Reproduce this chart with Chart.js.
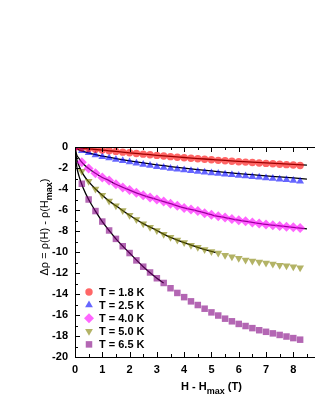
<!DOCTYPE html>
<html>
  <head>
    <title>Magnetoresistance</title>
    <script src="https://cdn.jsdelivr.net/npm/chart.js"></script>
    <style>
      body {
        margin: 0;
        overflow: hidden;
        background: #fff;
      }
      .chart-container {
        width: 360px;
        height: 407px;
      }
    </style>
  </head>
  <body>
    <div class="chart-container">
      <canvas id="graph"></canvas>
    </div>
    <script>
      // field points of the measured curves (T)
      const fieldH = [
        0, 0.25, 0.5, 0.75, 1, 1.25, 1.5, 1.75, 2, 2.25, 2.5, 2.75, 3, 3.25,
        3.5, 3.75, 4, 4.25, 4.5, 4.75, 5, 5.25, 5.5, 5.75, 6, 6.25, 6.5, 6.75,
        7, 7.25, 7.5, 7.75, 8, 8.25,
      ];
      const labels = ["T = 1.8 K", "T = 2.5 K", "T = 4.0 K", "T = 5.0 K", "T = 6.5 K"];

      const rho18 = [
        0, -0.08, -0.15, -0.22, -0.29, -0.35, -0.42, -0.49, -0.55, -0.62, -0.68,
        -0.74, -0.8, -0.86, -0.92, -0.97, -1.02, -1.07, -1.12, -1.17, -1.22,
        -1.27, -1.31, -1.36, -1.4, -1.44, -1.48, -1.52, -1.56, -1.6, -1.64,
        -1.68, -1.72, -1.76,
      ];
      const rho25 = [
        0, -0.35, -0.55, -0.75, -0.92, -1.05, -1.2, -1.32, -1.44, -1.55, -1.67,
        -1.77, -1.87, -1.96, -2.05, -2.13, -2.2, -2.27, -2.34, -2.41, -2.47,
        -2.53, -2.59, -2.65, -2.71, -2.77, -2.83, -2.89, -2.95, -3.01, -3.07,
        -3.13, -3.2, -3.27,
      ];
      const rho40 = [
        0, -1.45, -2.05, -2.5, -2.9, -3.2, -3.55, -3.85, -4.1, -4.35, -4.6, -4.8,
        -5.0, -5.2, -5.4, -5.6, -5.8, -5.95, -6.1, -6.3, -6.45, -6.6, -6.72,
        -6.85, -6.97, -7.08, -7.18, -7.28, -7.37, -7.45, -7.52, -7.59, -7.65,
        -7.72,
      ];
      const rho50 = [
        0, -2.3, -3.25, -4.0, -4.6, -5.15, -5.6, -6.05, -6.5, -6.9, -7.3, -7.65,
        -7.95, -8.3, -8.6, -8.85, -9.1, -9.35, -9.55, -9.75, -9.95, -10.1, -10.3,
        -10.45, -10.6, -10.75, -10.85, -10.95, -11.05, -11.15, -11.25, -11.3,
        -11.4, -11.5,
      ];
      const rho65 = [
        0, -3.5, -5.0, -6.1, -7.1, -7.95, -8.75, -9.45, -10.1, -10.8, -11.4,
        -11.95, -12.5, -12.95, -13.45, -13.9, -14.3, -14.7, -15.05, -15.4,
        -15.75, -16.05, -16.35, -16.6, -16.85, -17.05, -17.25, -17.45, -17.6,
        -17.75, -17.9, -18.05, -18.2, -18.35,
      ];

      // fitted curves (black lines)
      const fitH = [
        0, 0.05, 0.15, 0.3, 0.5, 0.75, 1, 1.25, 1.5, 2, 2.5, 3, 3.25, 3.5, 4,
        4.5, 5, 5.15, 5.5, 6, 6.5, 7, 7.5, 8, 8.5,
      ];
      const fit18 = [
        0, -0.03, -0.07, -0.12, -0.17, -0.24, -0.3, -0.36, -0.42, -0.55, -0.67,
        -0.79, -0.84, -0.9, -1.0, -1.1, -1.19, -1.22, -1.28, -1.37, -1.45,
        -1.52, -1.59, -1.66, -1.72,
      ];
      const fit25 = [
        0, -0.15, -0.28, -0.42, -0.56, -0.72, -0.86, -0.98, -1.1, -1.32, -1.52,
        -1.7, -1.78, -1.86, -2.01, -2.15, -2.28, -2.32, -2.41, -2.53, -2.64,
        -2.75, -2.85, -2.95, -3.05,
      ];
      const fit40 = [
        0, -0.65, -1.1, -1.6, -2.05, -2.5, -2.9, -3.2, -3.55, -4.1, -4.6, -5.0,
        -5.2, -5.4, -5.8, -6.1, -6.45, -6.55, -6.72, -6.97, -7.18, -7.37, -7.52,
        -7.65, -7.8,
      ];
      const fit50 = [
        0, -1.0, -1.8, -2.6, -3.3, -4.0, -4.6, -5.15, -5.6, -6.5, -7.3, -7.95,
        -8.3, -8.6, -9.1, -9.55, -9.95, -10.05,
      ];
      const fit65 = [
        0, -1.6, -2.8, -3.9, -5.0, -6.1, -7.1, -7.95, -8.75, -10.1, -11.4, -12.5,
        -12.95,
      ];

      function pts(xs, ys) {
        return ys.map((y, i) => ({ x: xs[i], y: y }));
      }

      function dataSet(label, ys, color, style, radius, rotation) {
        return {
          label: label,
          data: pts(fieldH, ys),
          backgroundColor: color,
          borderWidth: 0,
          pointStyle: style,
          pointRadius: radius,
          pointRotation: rotation || 0,
          showLine: false,
          isData: true,
        };
      }

      function fitSet(ys) {
        return {
          data: pts(fitH, ys),
          showLine: true,
          borderColor: "#000",
          borderWidth: 1.3,
          pointRadius: 0,
          cubicInterpolationMode: "monotone",
          isData: false,
        };
      }

      const tickFont = { family: "Liberation Sans, Arial", size: 11, weight: "bold" };

      // inward ticks, top frame, axis titles and legend inside the plot
      const framePlugin = {
        id: "frame",
        afterDraw(chart) {
          const ctx = chart.ctx;
          const a = chart.chartArea;
          const xs = chart.scales.x;
          const ys = chart.scales.y;
          ctx.save();
          ctx.strokeStyle = "#000";
          ctx.lineWidth = 1;
          ctx.beginPath();
          ctx.moveTo(a.left, a.top + 0.5);
          ctx.lineTo(a.right, a.top + 0.5);
          for (let v = 0; v <= 10; v += 0.5) {
            const px = Math.round(xs.getPixelForValue(v)) + 0.5;
            const len = v % 1 === 0 ? 5 : 3;
            ctx.moveTo(px, a.bottom);
            ctx.lineTo(px, a.bottom - len);
            ctx.moveTo(px, a.top);
            ctx.lineTo(px, a.top + len);
          }
          for (let v = -20; v <= 0; v += 1) {
            const py = Math.round(ys.getPixelForValue(v)) + 0.5;
            const len = v % 2 === 0 ? 5 : 3;
            ctx.moveTo(a.left, py);
            ctx.lineTo(a.left + len, py);
          }
          ctx.stroke();

          // x title
          ctx.fillStyle = "#000";
          ctx.textBaseline = "alphabetic";
          const big = "bold 11px Liberation Sans, Arial";
          const small = "bold 9px Liberation Sans, Arial";
          ctx.font = big;
          const w1 = ctx.measureText("H - H").width;
          const w3 = ctx.measureText(" (T)").width;
          ctx.font = small;
          const w2 = ctx.measureText("max").width;
          let x0 = (a.left + a.right) / 2 - (w1 + w2 + w3) / 2;
          const yb = 390;
          ctx.font = big;
          ctx.fillText("H - H", x0, yb);
          ctx.font = small;
          ctx.fillText("max", x0 + w1, yb + 4);
          ctx.font = big;
          ctx.fillText(" (T)", x0 + w1 + w2, yb);

          // y title
          const reg = "11px Liberation Sans, Arial";
          ctx.translate(48, 227);
          ctx.rotate(-Math.PI / 2);
          ctx.font = reg;
          const p1 = "Δρ = ρ(H) - ρ(H";
          const q1 = ctx.measureText(p1).width;
          const q3 = ctx.measureText(")").width;
          ctx.font = small;
          const q2 = ctx.measureText("max").width;
          let s = -(q1 + q2 + q3) / 2;
          ctx.font = reg;
          ctx.fillText(p1, s, 0);
          ctx.font = small;
          ctx.fillText("max", s + q1, 4);
          ctx.font = reg;
          ctx.fillText(")", s + q1 + q2, 0);
          ctx.setTransform(1, 0, 0, 1, 0, 0);

          // legend
          let row = 0;
          chart.data.datasets.forEach((ds) => {
            if (!ds.isData) return;
            const ly = 292 + row * 13.1;
            ctx.fillStyle = ds.backgroundColor;
            Chart.helpers.drawPoint(
              ctx,
              {
                pointStyle: ds.pointStyle,
                radius: ds.pointRadius,
                rotation: ds.pointRotation,
                borderWidth: 0,
              },
              89,
              ly
            );
            ctx.fillStyle = "#000";
            ctx.font = big;
            ctx.textBaseline = "middle";
            ctx.fillText(ds.label, 99, ly + 0.5);
            row++;
          });
          ctx.restore();
        },
      };

      const ctx = document.getElementById("graph").getContext("2d");
      new Chart(ctx, {
        type: "scatter",
        data: {
          datasets: [
            dataSet(labels[0], rho18, "rgba(255, 0, 0, 0.6)", "circle", 3.7),
            dataSet(labels[1], rho25, "rgba(0, 0, 255, 0.6)", "triangle", 4.5),
            dataSet(labels[2], rho40, "rgba(255, 0, 255, 0.6)", "rectRot", 5),
            dataSet(labels[3], rho50, "rgba(128, 128, 0, 0.6)", "triangle", 4.5, 180),
            dataSet(labels[4], rho65, "rgba(128, 0, 128, 0.6)", "rect", 4.6),
            fitSet(fit18),
            fitSet(fit25),
            fitSet(fit40),
            fitSet(fit50),
            fitSet(fit65),
          ],
        },
        options: {
          responsive: true,
          maintainAspectRatio: false,
          animation: false,
          layout: { padding: { top: 147, right: 1, left: 0, bottom: 0 } },
          plugins: {
            legend: { display: false },
            tooltip: { enabled: false },
          },
          scales: {
            x: {
              type: "linear",
              min: 0,
              max: 10,
              ticks: { stepSize: 1, font: tickFont, color: "#000", padding: 6 },
              grid: { display: false, drawTicks: false },
              border: { display: true, color: "#000", width: 1 },
              afterFit: (s) => {
                s.height = 50;
              },
            },
            y: {
              min: -20,
              max: 0,
              ticks: { stepSize: 2, font: tickFont, color: "#000", padding: 7 },
              grid: { display: false, drawTicks: false },
              border: { display: true, color: "#000", width: 1 },
              afterFit: (s) => {
                s.width = 75;
              },
            },
          },
        },
        plugins: [framePlugin],
      });
    </script>
  </body>
</html>
